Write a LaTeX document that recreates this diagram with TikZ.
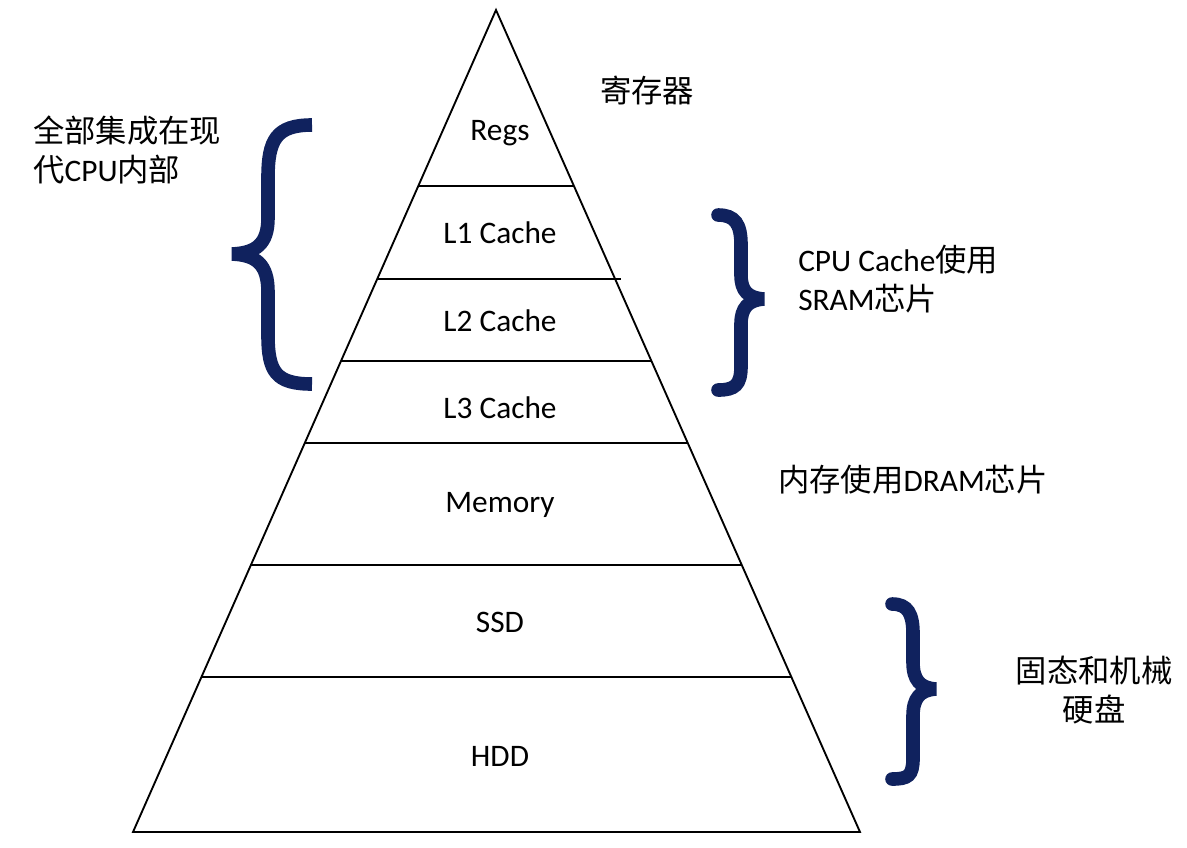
\documentclass[tikz,border=0pt]{standalone}
\usepackage{fontspec}
\setmainfont{Carlito}
\newfontfamily\cjk{Noto Sans CJK SC}
\usetikzlibrary{calc}
\definecolor{navy}{RGB}{16,34,94}
\tikzset{
  tier/.style={line width=1.4pt,draw=black},
  level/.style={font=\fontsize{23.5}{29}\selectfont,inner sep=0pt},
  note/.style={level,align=left,anchor=west},
  brace/.style={draw=navy,line width=10.2pt}
}

\begin{document}
\begin{tikzpicture}[x=0.75pt,y=-0.75pt]
  \useasboundingbox (0,0) rectangle (1187,847);
  \coordinate (apex) at (496,10);
  \coordinate (bl) at (133,832);
  \coordinate (br) at (860,832);
  \draw[tier,line join=miter] (apex) -- (bl) -- (br) -- cycle;
  \foreach \yy/\ext in {186/0,279/6,361/0,443/0,565/0,677/0}
    \draw[tier] ($(apex)!{(\yy-10)/822}!(bl)$) -- ($(apex)!{(\yy-10)/822}!(br)+(\ext,0)$);
  % levels
  \node[level] (regs) at (500,133) {Regs};
  \node[level] (l1) at (500,233) {L1 Cache};
  \node[level] (l2) at (500,321) {L2 Cache};
  \node[level] (l3) at (500,408) {L3 Cache};
  \node[level] (mem) at (500,505) {Memory};
  \node[level] (ssd) at (500,622) {SSD};
  \node[level] (hdd) at (500,756) {HDD};
  % notes
  \node[note] (regnote) at (600,90) {\cjk 寄存器};
  \node[note] (cpunote) at (33,150) {{\cjk 全部集成在现}\\{\cjk 代}CPU{\cjk 内部}};
  \node[note] (sramnote) at (798,279) {CPU Cache{\cjk 使用}\\SRAM{\cjk 芯片}};
  \node[note] (dramnote) at (778,480) {{\cjk 内存使用}DRAM{\cjk 芯片}};
  \node[level,align=center] (disknote) at (1094,690) {{\cjk 固态和机械}\\{\cjk 硬盘}};
  % braces
  \draw[brace] (312,125) .. controls (276,125) and (268,140) .. (268,178) -- (268,218)
    .. controls (268,244) and (256,253) .. (232,254)
    .. controls (256,255) and (268,264) .. (268,292) -- (268,335)
    .. controls (268,372) and (276,384) .. (312,384);
  \draw[brace,line cap=round] (718,215) .. controls (735,215) and (741,224) .. (741,245) -- (741,275)
    .. controls (741,291) and (748,298) .. (764,299)
    .. controls (748,300) and (741,308) .. (741,324) -- (741,366)
    .. controls (741,385) and (735,390) .. (718,390);
  \draw[brace,line cap=round] (892,604) .. controls (908,604) and (913,614) .. (913,634) -- (913,662)
    .. controls (913,680) and (920,688) .. (936,689)
    .. controls (920,690) and (913,698) .. (913,716) -- (913,758)
    .. controls (913,776) and (908,779) .. (892,779);
\end{tikzpicture}
\end{document}
